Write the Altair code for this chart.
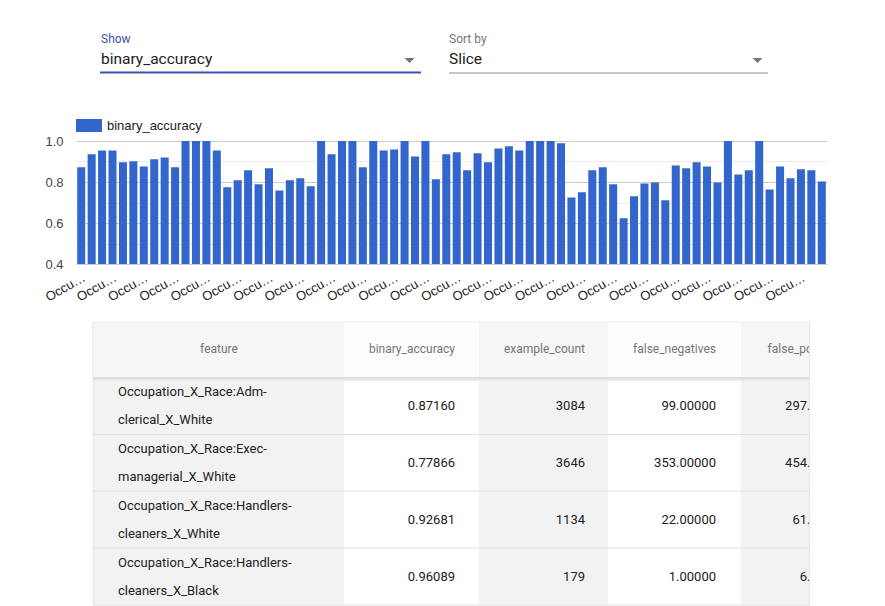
import altair as alt
import pandas as pd

# ---- data -------------------------------------------------------------
# binary_accuracy for each of the 72 slices, in slice order
accuracy = [
    0.8716, 0.935, 0.954, 0.954, 0.896, 0.901, 0.876, 0.911, 0.920, 0.872,
    1.0, 1.0, 1.0, 0.954, 0.774, 0.808, 0.857, 0.789, 0.867, 0.759,
    0.808, 0.818, 0.779, 1.0, 0.935, 1.0, 1.0, 0.872, 1.0, 0.954,
    0.959, 1.0, 0.925, 1.0, 0.813, 0.935, 0.945, 0.857, 0.940, 0.896,
    0.964, 0.974, 0.954, 1.0, 1.0, 1.0, 0.989, 0.725, 0.750, 0.857,
    0.872, 0.789, 0.623, 0.730, 0.793, 0.798, 0.711, 0.881, 0.867, 0.896,
    0.876, 0.798, 1.0, 0.837, 0.857, 1.0, 0.764, 0.876, 0.818, 0.862,
    0.857, 0.803,
]
y_ticks = [0.4, 0.5, 0.6, 0.7, 0.8, 0.9, 1.0]
slice_label = "Occu\u2026"

# metrics table
features = [
    "Occupation_X_Race:Adm-clerical_X_White",
    "Occupation_X_Race:Exec-managerial_X_White",
    "Occupation_X_Race:Handlers-cleaners_X_White",
    "Occupation_X_Race:Handlers-cleaners_X_Black",
]
table_accuracy = [0.87160, 0.77866, 0.92681, 0.96089]
example_count = [3084, 3646, 1134, 179]
false_negatives = [99.0, 353.0, 22.0, 1.0]
false_positives = [297.0, 454.0, 61.0, 6.0]
columns = ["feature", "binary_accuracy", "example_count", "false_negatives", "false_positives"]

# ---- layout -------------------------------------------------------------
W, H = 885, 606
OX, OY = 76, 141            # top-left corner of the bar plot on the page
PW, PH = 751, 123           # bar plot size
UI_FONT = "Roboto"
CHART_FONT = "Liberation Sans"
BAR_BLUE = "#3366cc"
LINE_H = 28                 # line height of the wrapped feature names

one = pd.DataFrame({"k": [0]})


def px(x):
    return alt.value(x - OX)


def py(y):
    return alt.value(y - OY)


def box(x1, y1, x2, y2, color):
    return alt.Chart(one).mark_rect(color=color).encode(
        x=px(x1), x2=px(x2), y=py(y1), y2=py(y2))


def hline(x1, x2, y, color, width=1):
    return alt.Chart(one).mark_rule(color=color, strokeWidth=width).encode(
        x=px(x1), x2=px(x2), y=py(y))


def vline(x, y1, y2, color, width=1):
    return alt.Chart(one).mark_rule(color=color, strokeWidth=width).encode(
        x=px(x), y=py(y1), y2=py(y2))


def label(x, y, text, size, color, align="left", font=UI_FONT):
    return alt.Chart(one).mark_text(
        text=text, align=align, baseline="middle", font=font,
        fontSize=size, color=color).encode(x=px(x), y=py(y))


def arrow(x, y):
    return alt.Chart(one).mark_point(
        shape="M-1,-0.5L1,-0.5L0,0.5Z", filled=True, size=100,
        color="#757575", opacity=1, strokeWidth=0).encode(x=px(x), y=py(y))


# ---- dropdown controls --------------------------------------------------
controls = [
    label(101, 39, "Show", 12, "#3f51b5"),
    label(101, 59, "binary_accuracy", 15.5, "#212121"),
    hline(100, 421, 72.5, "#3f51b5", 2),
    arrow(409.5, 60.5),
    label(449, 39, "Sort by", 12, "#757575"),
    label(449, 59, "Slice", 15.5, "#212121"),
    hline(449, 768, 73, "#8c8c8c", 1),
    arrow(757.5, 60.5),
]

# ---- bar chart ------------------------------------------------------------
bar_df = pd.DataFrame({"slice": list(range(len(accuracy))), "binary_accuracy": accuracy})

bars = alt.Chart(bar_df).transform_calculate(
    metric="'binary_accuracy'"
).mark_bar(clip=True).encode(
    x=alt.X(
        "slice:O", title=None,
        scale=alt.Scale(paddingInner=0.23, paddingOuter=0.115),
        axis=alt.Axis(
            domain=False, ticks=False, grid=False,
            labelExpr=f"datum.value % 3 == 0 ? '{slice_label}' : ''",
            labelAngle=330, labelAlign="right", labelBaseline="top",
            labelPadding=7, labelOverlap=False, labelFont=CHART_FONT,
            labelFontSize=13, labelColor="#222222",
        ),
    ),
    y=alt.Y(
        "binary_accuracy:Q", title=None,
        scale=alt.Scale(domain=[0.4, 1.0], zero=False, nice=False),
        axis=alt.Axis(
            values=y_ticks, domain=False, ticks=False,
            labelExpr="round(datum.value * 10) % 2 == 0 ? format(datum.value, '.1f') : ''",
            labelPadding=13, labelFont=CHART_FONT, labelFontSize=13,
            labelColor="#444444",
            gridColor={"condition": {"test": "round(datum.value * 10) % 2 == 0",
                                     "value": "#cccccc"},
                       "value": "#ebebeb"},
            gridOpacity=1, gridWidth=1,
        ),
    ),
    color=alt.Color(
        "metric:N", scale=alt.Scale(range=[BAR_BLUE]),
        legend=alt.Legend(
            orient="none", legendX=0, legendY=-28.5, title=None,
            symbolType="M-1,-0.5H1V0.5H-1Z", symbolSize=676,
            symbolStrokeWidth=0, symbolOpacity=1,
            labelFont=CHART_FONT, labelFontSize=13, labelColor="#222222",
            labelOffset=5, padding=0,
        ),
    ),
)

# ---- metrics table --------------------------------------------------------
col_edges = [93, 344, 479, 608, 741, 872]
header_top, header_bottom, table_bottom = 322, 378, 605
row_lines = [434.5, 491, 548, 605]

decor = []
for i in range(len(col_edges) - 1):
    grey = i % 2 == 0
    decor.append(box(col_edges[i], header_top, col_edges[i + 1], header_bottom,
                     "#f6f6f6" if grey else "#fdfdfd"))
    decor.append(box(col_edges[i], header_bottom, col_edges[i + 1], table_bottom,
                     "#f2f2f2" if grey else "#ffffff"))
for y in row_lines:
    decor.append(hline(93, 872, y, "#e2e2e2", 1))
decor += [
    hline(93, 872, header_top, "#eeeeee", 1),
    hline(93, 872, header_bottom + 2, "#ececec", 2),
    hline(93, 872, header_bottom, "#d4d4d4", 1.5),
    vline(93, header_top, table_bottom, "#e6e6e6", 1),
]

header_pos = [(219, "center"), (455, "right"), (585, "right"), (716, "right"), (847, "right")]
headers = [label(x, 349, name, 12, "#757575", align=a)
           for name, (x, a) in zip(columns, header_pos)]

table = pd.DataFrame({
    "feature": features,
    "binary_accuracy": table_accuracy,
    "example_count": example_count,
    "false_negatives": false_negatives,
    "false_positives": false_positives,
})

row_y = alt.Y(
    "feature:N", sort=features, axis=None,
    scale=alt.Scale(domain=features, range=[406 - OY, 577 - OY], padding=0),
)

cells = [
    # feature names wrap after their first hyphen; the two lines sit
    # symmetrically about the row centre
    alt.Chart(table).transform_calculate(
        wrapped="replace(datum.feature, '-', '-\\n')"
    ).mark_text(
        align="left", baseline="middle", lineBreak="\n", lineHeight=LINE_H,
        dy=-LINE_H / 2, font=UI_FONT, fontSize=13, color="#212121",
    ).encode(x=px(118), y=row_y, text="wrapped:N")
]
for col, x, fmt in [("binary_accuracy", 455, ".5f"), ("example_count", 585, "d"),
                    ("false_negatives", 716, ".5f"), ("false_positives", 847, ".5f")]:
    cells.append(
        alt.Chart(table).mark_text(
            align="right", baseline="middle", font=UI_FONT, fontSize=13,
            color="#212121",
        ).encode(x=px(x), y=row_y, text=alt.Text(f"{col}:Q", format=fmt))
    )

# the table sits in a scroll box that ends at x = 810
mask = [box(810, 316, W, H, "#ffffff"), vline(809.5, header_top, table_bottom, "#e4e4e4", 1)]

chart = alt.layer(
    bars, *controls, *decor, *headers, *cells, *mask
).resolve_scale(
    y="independent"
).properties(
    width=PW, height=PH,
    padding={"left": OX, "top": OY, "right": W - OX - PW, "bottom": H - OY - PH},
    autosize="none",
    background="#ffffff",
).configure_view(stroke="transparent")

chart.save("out.html", embed_options={"renderer": "svg", "actions": False})
